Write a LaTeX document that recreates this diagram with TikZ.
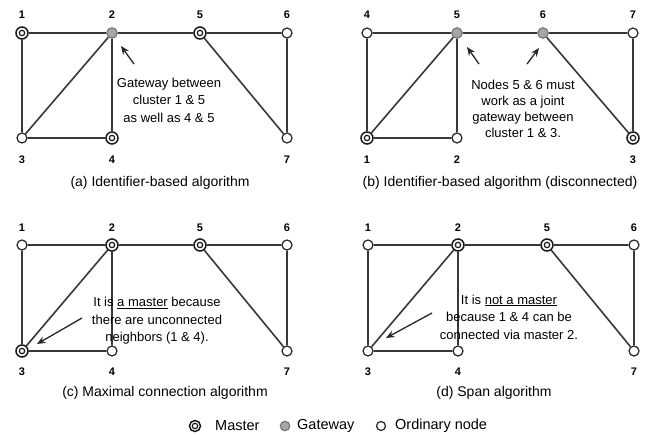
\documentclass[tikz,border=0pt]{standalone}
\usepackage{fontspec}
\setmainfont{Liberation Sans}
\usetikzlibrary{arrows.meta}
\begin{document}
\begin{tikzpicture}[x=1pt,y=-1pt,
  edge/.style={draw=black!78, line width=1.6pt},
  ord/.style={circle, draw=black!85, line width=1.2pt, fill=white, minimum size=10pt, inner sep=0pt},
  gw/.style={circle, draw=black!55, line width=1.1pt, fill=black!35, minimum size=10.5pt, inner sep=0pt},
  mst/.style={circle, draw=black!90, line width=1.5pt, fill=white, minimum size=12pt, inner sep=0pt,
    path picture={\draw[line width=1.2pt] (path picture bounding box.center) circle (2.7pt);}},
  num/.style={font=\bfseries\fontsize{11}{13}\selectfont, inner sep=0pt},
  captxt/.style={font=\fontsize{14}{16}\selectfont, inner sep=0pt},
  note/.style={font=\fontsize{13}{17.5}\selectfont, align=center, inner sep=0pt},
  pointer/.style={-{Stealth[length=8.5pt,width=7pt]}, line width=1.3pt, black!85},
  leg/.style={font=\fontsize{14.5}{16}\selectfont, inner sep=0pt, anchor=west},
]
\useasboundingbox[fill=white] (0,0) rectangle (654,435);

% ---------------- Panel (a)
\node[mst] (a1) at (22,33) {};
\node[gw]  (a2) at (112,33) {};
\node[mst] (a5) at (200,33) {};
\node[ord] (a6) at (287,33) {};
\node[ord] (a3) at (22,138) {};
\node[mst] (a4) at (112,138) {};
\node[ord] (a7) at (287,138) {};
\draw[edge] (a1)--(a2) (a2)--(a5) (a5)--(a6) (a1)--(a3) (a2)--(a3) (a2)--(a4) (a3)--(a4) (a5)--(a7) (a6)--(a7);
\node[num] (la1) at (22,15) {1};
\node[num] (la2) at (112,15) {2};
\node[num] (la5) at (200,15) {5};
\node[num] (la6) at (287,15) {6};
\node[num] (la3) at (22,160) {3};
\node[num] (la4) at (112,160) {4};
\node[num] (la7) at (287,160) {7};
\node[note] (na) at (169,100) {Gateway between\\cluster 1 \& 5\\as well as 4 \& 5};
\coordinate (pa) at (134,64);
\coordinate (ta) at (121,46);
\draw[pointer] (pa) -- (ta);
\node[captxt] (capa) at (160,183) {(a) Identifier-based algorithm};

% ---------------- Panel (b)
\node[ord] (b4) at (367,33) {};
\node[gw]  (b5) at (457,33) {};
\node[gw]  (b6) at (543,33) {};
\node[ord] (b7) at (633,33) {};
\node[mst] (b1) at (367,138) {};
\node[ord] (b2) at (457,138) {};
\node[mst] (b3) at (633,138) {};
\draw[edge] (b4)--(b5) (b5)--(b6) (b6)--(b7) (b4)--(b1) (b5)--(b1) (b5)--(b2) (b1)--(b2) (b6)--(b3) (b7)--(b3);
\node[num] (lb4) at (367,15) {4};
\node[num] (lb5) at (457,15) {5};
\node[num] (lb6) at (543,15) {6};
\node[num] (lb7) at (633,15) {7};
\node[num] (lb1) at (367,160) {1};
\node[num] (lb2) at (457,160) {2};
\node[num] (lb3) at (633,160) {3};
\node[note, font=\fontsize{13}{16.2}\selectfont] (nb) at (523,109) {Nodes 5 \& 6 must\\work as a joint\\gateway between\\cluster 1 \& 3.};
\coordinate (pb1) at (479,64);
\coordinate (tb1) at (467,47);
\coordinate (pb2) at (527,64);
\coordinate (tb2) at (539,48);
\draw[pointer] (pb1) -- (tb1);
\draw[pointer] (pb2) -- (tb2);
\node[captxt] (capb) at (500,183) {(b) Identifier-based algorithm (disconnected)};

% ---------------- Panel (c)
\node[ord] (c1) at (22,245) {};
\node[mst] (c2) at (112,245) {};
\node[mst] (c5) at (200,245) {};
\node[ord] (c6) at (287,245) {};
\node[mst] (c3) at (22,351) {};
\node[ord] (c4) at (112,351) {};
\node[ord] (c7) at (287,351) {};
\draw[edge] (c1)--(c2) (c2)--(c5) (c5)--(c6) (c1)--(c3) (c2)--(c3) (c2)--(c4) (c3)--(c4) (c5)--(c7) (c6)--(c7);
\node[num] (lc1) at (22,228) {1};
\node[num] (lc2) at (112,228) {2};
\node[num] (lc5) at (200,228) {5};
\node[num] (lc6) at (287,228) {6};
\node[num] (lc3) at (22,372) {3};
\node[num] (lc4) at (112,372) {4};
\node[num] (lc7) at (287,372) {7};
\node[note] (nc) at (157,321) {It is \underline{a master} because\\there are unconnected\\neighbors (1 \& 4).};
\coordinate (pc) at (82,318);
\coordinate (tc) at (37,344);
\draw[pointer] (pc) -- (tc);
\node[captxt] (capc) at (165,393) {(c) Maximal connection algorithm};

% ---------------- Panel (d)
\node[ord] (d1) at (368,245) {};
\node[mst] (d2) at (458,245) {};
\node[mst] (d5) at (547,245) {};
\node[ord] (d6) at (634,245) {};
\node[ord] (d3) at (368,351) {};
\node[ord] (d4) at (458,351) {};
\node[ord] (d7) at (634,351) {};
\draw[edge] (d1)--(d2) (d2)--(d5) (d5)--(d6) (d1)--(d3) (d2)--(d3) (d2)--(d4) (d3)--(d4) (d5)--(d7) (d6)--(d7);
\node[num] (ld1) at (368,228) {1};
\node[num] (ld2) at (458,228) {2};
\node[num] (ld5) at (547,228) {5};
\node[num] (ld6) at (634,228) {6};
\node[num] (ld3) at (368,372) {3};
\node[num] (ld4) at (458,372) {4};
\node[num] (ld7) at (634,372) {7};
\node[note] (nd) at (509,317) {It is \underline{not a master}\\because 1 \& 4 can be\\connected via master 2.};
\coordinate (pd) at (432,313);
\coordinate (td) at (386,338);
\draw[pointer] (pd) -- (td);
\node[captxt] (capd) at (494,393) {(d) Span algorithm};

% ---------------- Legend
\node[mst, minimum size=11pt] (lgm) at (195,426) {};
\node[leg] (lgmt) at (215,426) {Master};
\node[gw, minimum size=9.5pt] (lgg) at (285,426) {};
\node[leg] (lggt) at (297,426) {Gateway};
\node[ord, minimum size=9pt] (lgo) at (381,426) {};
\node[leg] (lgot) at (395,426) {Ordinary node};
\end{tikzpicture}
\end{document}
